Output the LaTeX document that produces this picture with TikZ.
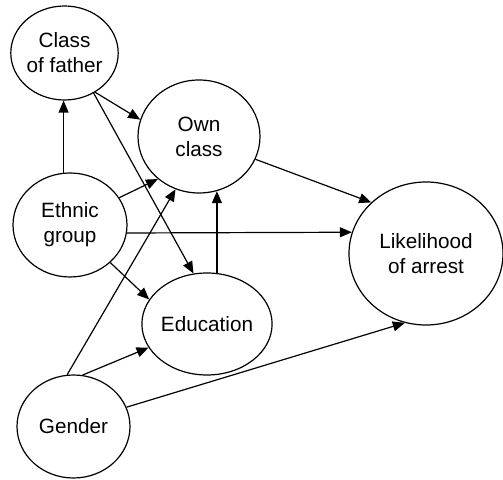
\documentclass[tikz,border=0pt]{standalone}
\usepackage{fontspec}
\setmainfont{Liberation Sans}
\usepackage{tikz}
\usetikzlibrary{shapes.geometric, arrows.meta}

\begin{document}
\begin{tikzpicture}[x=1pt, y=1pt, line width=1.2pt,
    var/.style={draw, ellipse, inner sep=0pt, align=center, font=\fontsize{20.7}{25}\selectfont},
    path/.style={-{Triangle[length=12pt, width=10pt]}}]
    \useasboundingbox (0, 0) rectangle (503, 479);
    \node[var, minimum width=103, minimum height=94] (father) at (64.5, 426) {Class\\of father};
    \node[var, minimum width=122, minimum height=113] (own) at (199, 342.5) {Own\\class};
    \node[var, minimum width=114, minimum height=104] (ethnic) at (70, 254) {Ethnic\\group};
    \node[var, minimum width=122, minimum height=102] (edu) at (207, 155) {Education};
    \node[var, minimum width=113, minimum height=103] (gender) at (73.5, 52.5) {Gender};
    \node[var, minimum width=154, minimum height=143] (arrest) at (426, 225.5) {Likelihood\\of arrest};
    \draw[path] (ethnic.97) -- (ethnic.97 |- father.south);
    \draw[path] (father.-52) -- (own.164);
    \draw[path] (father.-54) -- (edu.105);
    \draw[path] (ethnic.29) -- (own.226);
    \draw[path] (ethnic.-8) -- (arrest.164.5);
    \draw[path] (ethnic.-43.5) -- (edu.157);
    \draw[path] (edu.79) -- (edu.79 |- own.-72);
    \draw[path] (gender.97) -- (own.246.7);
    \draw[path] (gender.80.4) -- (edu.202.8);
    \draw[path] (gender.20) -- (arrest.253);
    \draw[path] (own.-22.8) -- (arrest.137);
\end{tikzpicture}
\end{document}
